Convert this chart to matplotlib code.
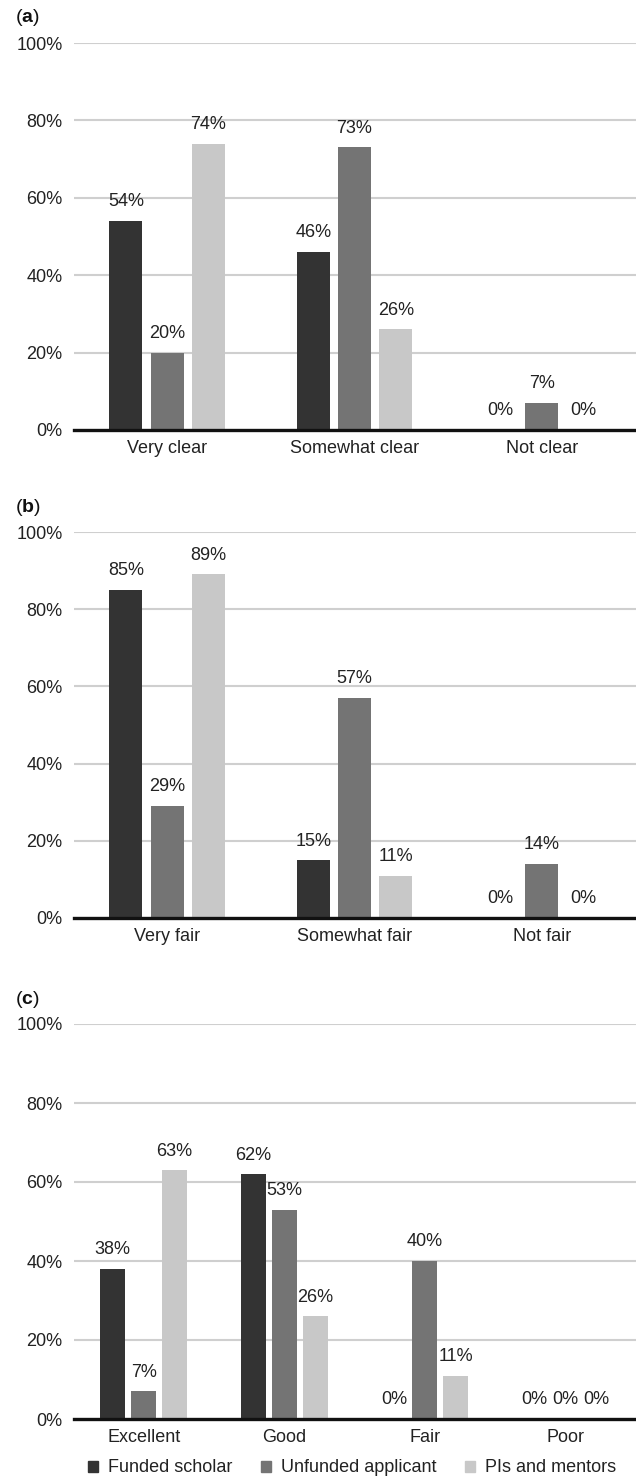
import matplotlib
matplotlib.use("Agg")
import numpy as np
from matplotlib import pyplot as plt

plt.rcParams['font.family'] = ['Liberation Sans', 'DejaVu Sans']
plt.rcParams['mathtext.fontset'] = 'custom'
plt.rcParams['mathtext.rm'] = 'Liberation Sans'
plt.rcParams['mathtext.bf'] = 'Liberation Sans:bold'

series = ['Funded scholar', 'Unfunded applicant', 'PIs and mentors']
colors = ['#333333', '#747474', '#c8c8c8']

# panel (a)
cats_a = ['Very clear', 'Somewhat clear', 'Not clear']
funded_a = [54, 46, 0]
unfunded_a = [20, 73, 7]
pis_a = [74, 26, 0]

# panel (b)
cats_b = ['Very fair', 'Somewhat fair', 'Not fair']
funded_b = [85, 15, 0]
unfunded_b = [29, 57, 14]
pis_b = [89, 11, 0]

# panel (c)
cats_c = ['Excellent', 'Good', 'Fair', 'Poor']
funded_c = [38, 62, 0, 0]
unfunded_c = [7, 53, 40, 0]
pis_c = [63, 26, 11, 0]

yticks = [0, 20, 40, 60, 80, 100]

W, H = 636, 1476
fig = plt.figure(figsize=(W / 100, H / 100), dpi=100)


def panel(rect, letter, cats, groups):
    ax = fig.add_axes(rect)
    x = np.arange(len(cats))
    width = 0.176
    step = 0.22
    for i, (vals, col) in enumerate(zip(groups, colors)):
        pos = x + (i - 1) * step
        ax.bar(pos, vals, width=width, color=col, zorder=2)
        for p, v in zip(pos, vals):
            ax.annotate(f'{v}%', xy=(p, v), xytext=(0, 10.5),
                        textcoords='offset points', ha='center',
                        va='baseline', fontsize=13, color='#222222')
    ax.set_xlim(-0.5, len(cats) - 0.5)
    ax.set_ylim(0, 100)
    ax.set_yticks(yticks)
    ax.set_yticklabels([f'{t}%' for t in yticks])
    ax.set_xticks(x)
    ax.set_xticklabels(cats)
    ax.tick_params(axis='both', length=0, labelsize=13, colors='#222222')
    ax.tick_params(axis='y', pad=8)
    ax.tick_params(axis='x', pad=7)
    ax.grid(axis='y', color='#cfcfcf', linewidth=1.5, zorder=0)
    for spine in ['left', 'top', 'right', 'bottom']:
        ax.spines[spine].set_visible(False)
    ax.axhline(0, color='#111111', linewidth=2.4, zorder=3, clip_on=False)
    top = rect[1] + rect[3]
    fig.text(15 / W, top + 25 / H, r'($\mathbf{' + letter + '}$)',
             ha='left', va='center', fontsize=14, color='#111111')
    return ax


left = 73.5 / W
width = 562 / W
panel([left, 1 - 430 / H, width, 387 / H], 'a', cats_a,
      [funded_a, unfunded_a, pis_a])
panel([left, 1 - 918 / H, width, 386 / H], 'b', cats_b,
      [funded_b, unfunded_b, pis_b])
panel([left, 1 - 1419 / H, width, 395 / H], 'c', cats_c,
      [funded_c, unfunded_c, pis_c])

handles = [plt.Rectangle((0, 0), 1, 1, color=c) for c in colors]
fig.legend(handles, series, loc='center', bbox_to_anchor=(352 / W, 8 / H),
           ncol=3, frameon=False, fontsize=13, handlelength=0.55,
           handleheight=0.55, handletextpad=0.55, columnspacing=1.6,
           borderaxespad=0, borderpad=0, labelcolor='#222222')

fig.savefig('out.png', dpi=100)
